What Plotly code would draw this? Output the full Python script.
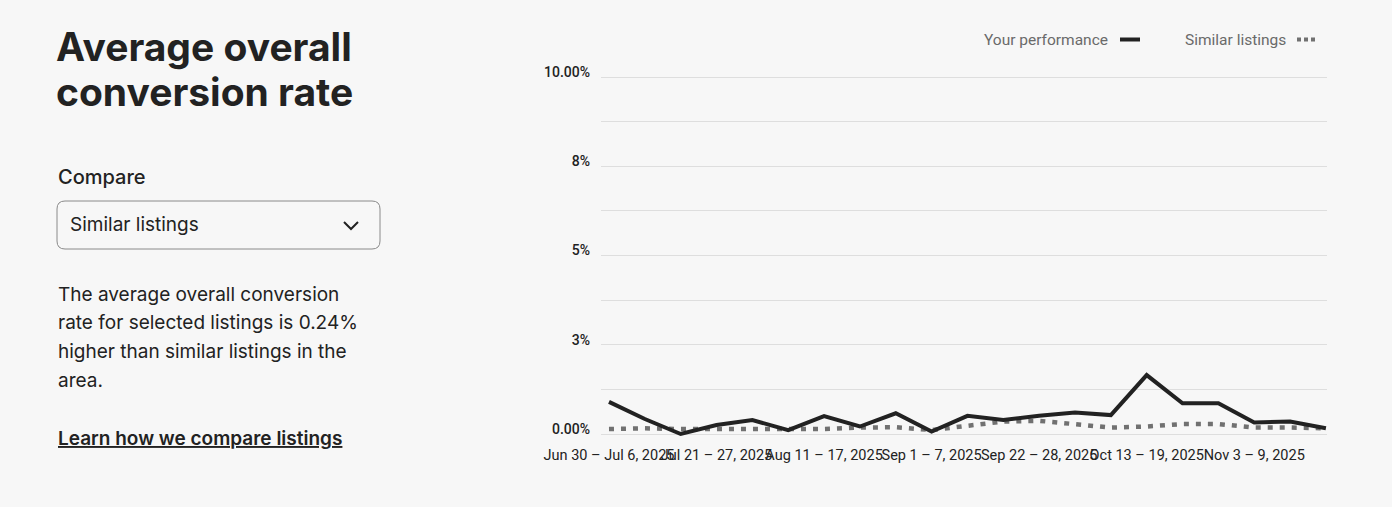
import plotly.graph_objects as go

weeks = [
    "Jun 30 – Jul 6, 2025", "Jul 7 – 13, 2025", "Jul 14 – 20, 2025", "Jul 21 – 27, 2025",
    "Jul 28 – Aug 3, 2025", "Aug 4 – 10, 2025", "Aug 11 – 17, 2025", "Aug 18 – 24, 2025",
    "Aug 25 – 31, 2025", "Sep 1 – 7, 2025", "Sep 8 – 14, 2025", "Sep 15 – 21, 2025",
    "Sep 22 – 28, 2025", "Sep 29 – Oct 5, 2025", "Oct 6 – 12, 2025", "Oct 13 – 19, 2025",
    "Oct 20 – 26, 2025", "Oct 27 – Nov 2, 2025", "Nov 3 – 9, 2025", "Nov 10 – 16, 2025",
    "Nov 17 – 23, 2025",
]
your_performance = [0.90, 0.42, 0.0, 0.25, 0.39, 0.11, 0.50, 0.21, 0.58, 0.07, 0.51,
                    0.39, 0.51, 0.60, 0.53, 1.65, 0.86, 0.86, 0.32, 0.35, 0.16]
similar_listings = [0.14, 0.16, 0.14, 0.14, 0.17, 0.14, 0.14, 0.18, 0.19, 0.11, 0.23,
                    0.35, 0.37, 0.28, 0.18, 0.21, 0.28, 0.28, 0.18, 0.18, 0.16]
shown_weeks = [weeks[i] for i in range(0, 21, 3)]
y_tickvals = [0, 1.25, 2.5, 3.75, 5, 6.25, 7.5, 8.75, 10]
y_ticktext = ["0.00%", "", "3%", "", "5%", "", "8%", "", "10.00%"]

W, H = 1392, 507
L, R, T, B = 601, 1327, 67, 444
BG = "#f7f7f7"


def px(x):
    return (x - L) / (R - L)


def py(y):
    return (B - y) / (B - T)


fig = go.Figure()
fig.add_trace(go.Scatter(x=weeks, y=similar_listings, mode="lines", name="Similar listings",
                         line=dict(color="#717171", width=4.5, dash="5px,7px")))
fig.add_trace(go.Scatter(x=weeks, y=your_performance, mode="lines", name="Your performance",
                         line=dict(color="#222222", width=4)))

TXT = "Inter"
ann = []


def text(x, y, s, size, color="#222222", weight=400, font=TXT, xanchor="left"):
    ann.append(dict(x=px(x), y=py(y), xref="paper", yref="paper", text=s, showarrow=False,
                    xanchor=xanchor, yanchor="middle",
                    font=dict(family=font, size=size, color=color, weight=weight)))


text(54, 46, "Average overall", 39, weight=700)
text(54, 91, "conversion rate", 39, weight=700)
text(56, 177, "Compare", 20, weight=500)
text(68, 224, "Similar listings", 19)
desc = ["The average overall conversion", "rate for selected listings is 0.24%",
        "higher than similar listings in the", "area."]
for i, line in enumerate(desc):
    text(56, 294 + i * 28.7, line, 19)
text(56, 438, "<u>Learn how we compare listings</u>", 19, weight=600)

# legend
text(1110, 40, "Your performance", 15.5, color="#6a6a6a", font="Roboto", xanchor="right")
text(1288, 40, "Similar listings", 15.5, color="#6a6a6a", font="Roboto", xanchor="right")

shapes = []
# dropdown box with rounded corners
x0, x1, y0, y1, r = 57, 380, 201, 249, 8
path = (f"M {px(x0 + r)},{py(y0)} L {px(x1 - r)},{py(y0)} Q {px(x1)},{py(y0)} {px(x1)},{py(y0 + r)} "
        f"L {px(x1)},{py(y1 - r)} Q {px(x1)},{py(y1)} {px(x1 - r)},{py(y1)} "
        f"L {px(x0 + r)},{py(y1)} Q {px(x0)},{py(y1)} {px(x0)},{py(y1 - r)} "
        f"L {px(x0)},{py(y0 + r)} Q {px(x0)},{py(y0)} {px(x0 + r)},{py(y0)} Z")
shapes.append(dict(type="path", xref="paper", yref="paper", path=path,
                   line=dict(color="#8a8a8a", width=1)))
chev = f"M {px(344)},{py(222)} L {px(351)},{py(229)} L {px(358)},{py(222)}"
shapes.append(dict(type="path", xref="paper", yref="paper", path=chev,
                   line=dict(color="#222222", width=2)))
shapes.append(dict(type="line", xref="paper", yref="paper", x0=px(1120), x1=px(1140),
                   y0=py(39.5), y1=py(39.5), line=dict(color="#222222", width=4)))
shapes.append(dict(type="line", xref="paper", yref="paper", x0=px(1297), x1=px(1318),
                   y0=py(39.5), y1=py(39.5), line=dict(color="#717171", width=4, dash="4px,3px")))

fig.update_layout(
    width=W, height=H,
    margin=dict(l=L, r=W - R, t=T, b=H - B, pad=0),
    paper_bgcolor=BG, plot_bgcolor=BG,
    showlegend=False,
    annotations=ann, shapes=shapes,
    xaxis=dict(type="category", range=[-0.223, 20.03], showgrid=False, zeroline=False,
               showline=False, ticks="", tickmode="array", tickvals=shown_weeks,
               ticktext=shown_weeks, tickangle=0,
               tickfont=dict(family="Roboto", size=14.5, color="#222222")),
    yaxis=dict(range=[-0.28, 10.28], tickmode="array", tickvals=y_tickvals, ticktext=y_ticktext,
               showgrid=True, gridcolor="#dedede", gridwidth=1, zeroline=False, showline=False,
               ticks="", ticklabelstandoff=10, ticklabelshift=-5,
               tickfont=dict(family="Roboto", size=14, color="#222222", weight=500)),
)

fig.write_html(
    "out.html",
    config={"displayModeBar": False},
    post_script="document.body.style.margin='0';document.body.style.background='#f7f7f7';",
)
